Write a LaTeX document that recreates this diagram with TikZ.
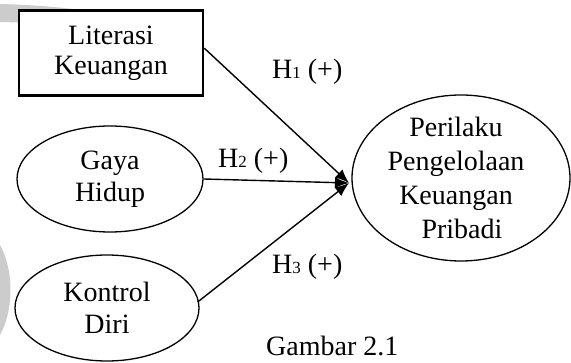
\documentclass[tikz,border=0pt]{standalone}
\usepackage{fontspec}
\setmainfont{Liberation Serif}
\usetikzlibrary{arrows.meta,shapes.geometric}
\begin{document}
\begin{tikzpicture}[x=1pt,y=-1pt,
  lbl/.style={font=\fontsize{28}{30}\selectfont, align=center, inner sep=0pt},
  ellbl/.style={font=\fontsize{28}{32}\selectfont, align=center, inner sep=0pt},
  boxnode/.style={draw, line width=2.6pt, minimum width=184pt, minimum height=85pt, lbl},
  ellnode/.style={draw, line width=1.3pt, ellipse, ellbl},
  conn/.style={line width=1.4pt, -{Latex[length=14pt,width=11pt]}},
  wm/.style={fill=gray!40, draw=none}
]
\useasboundingbox (0,0) rectangle (571,363);
% watermark traces
\fill[wm] (0,4) .. controls (80,6) and (150,18) .. (195,42) .. controls (150,30) and (80,24) .. (0,22) -- cycle;
\fill[wm] (0,245) .. controls (14,270) and (14,310) .. (0,335) -- cycle;
% nodes
\node[boxnode, fill=white] (lit) at (111,53) {Literasi\\Keuangan};
\node[ellnode, minimum width=186pt, minimum height=106pt] (gaya) at (110,179) {Gaya\\Hidup};
\node[ellnode, minimum width=184pt, minimum height=106pt] (kon) at (107,308) {Kontrol\\Diri};
\node[ellnode, minimum width=218pt, minimum height=166pt] (per) at (461,178) {};
\node[ellbl, font=\fontsize{28}{34}\selectfont] (pertext) at (456,178) {Perilaku\\Pengelolaan\\Keuangan\\\hspace*{12pt}Pribadi};
\coordinate (tip) at (349,183);
% connectors
\draw[conn] (lit.north east) ++(0,39) coordinate (litout) -- (tip);
\draw[conn] (gaya.east) -- (tip);
\draw[conn] (kon.east) ++(-2,-6) coordinate (konout) -- (tip);
% labels
\node[lbl, anchor=west] (h1) at (272,72) {H{\fontsize{17}{17}\selectfont 1} (+)};
\node[lbl, anchor=west] (h2) at (218,161) {H{\fontsize{17}{17}\selectfont 2} (+)};
\node[lbl, anchor=west] (h3) at (272,267) {H{\fontsize{17}{17}\selectfont 3} (+)};
\node[lbl, anchor=west] (cap) at (266,346) {Gambar 2.1};
\end{tikzpicture}
\end{document}
